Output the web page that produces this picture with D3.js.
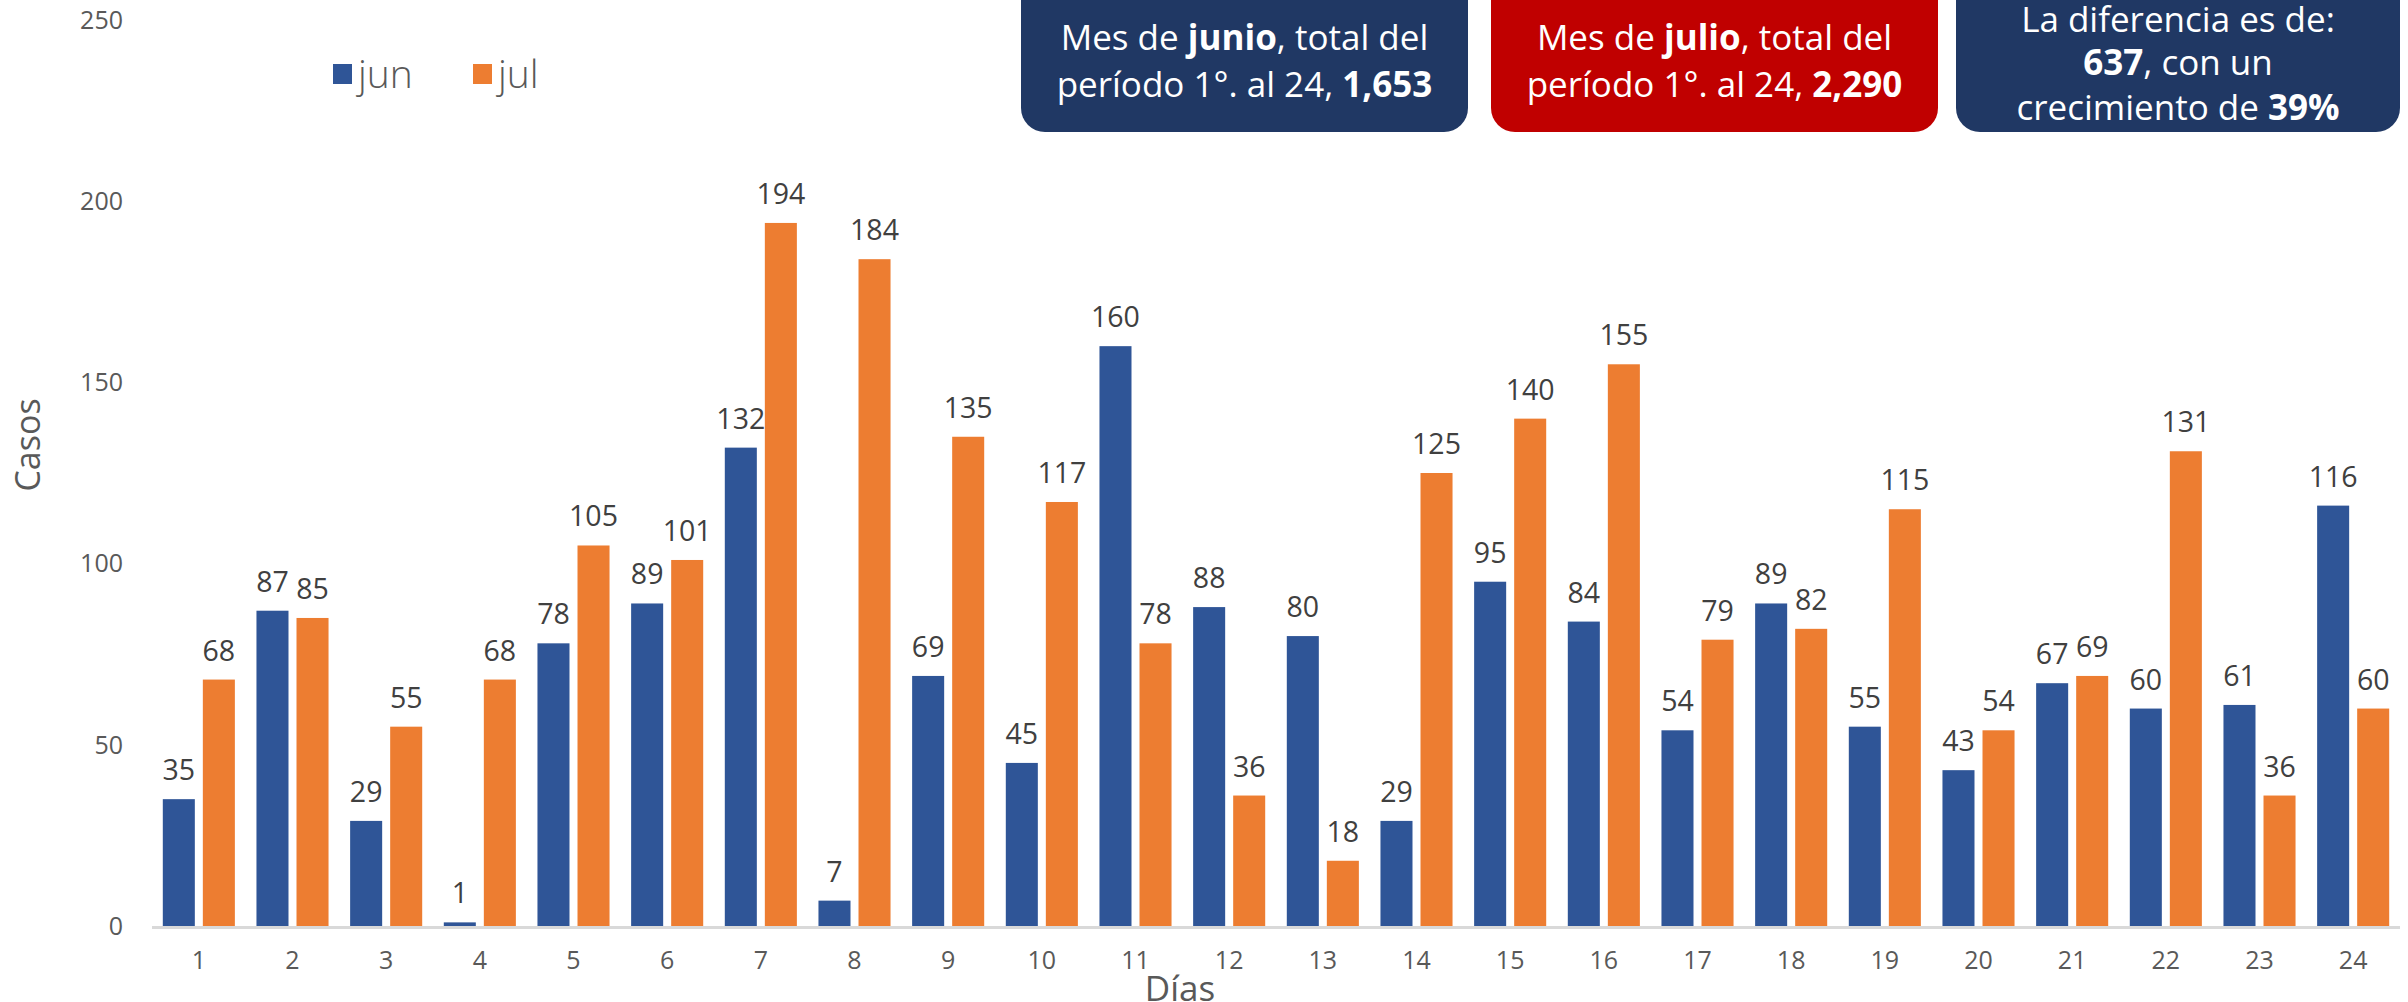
<!DOCTYPE html>
<html><head><meta charset="utf-8">
<script src="https://cdn.jsdelivr.net/npm/d3@7"></script>
<style>
html,body{margin:0;padding:0;background:#fff;}
svg{display:block;font-family:"Open Sans","Noto Sans",sans-serif;}
</style></head>
<body>
<svg id="chart" width="2408" height="1002"></svg>
<script>
const days = ["1","2","3","4","5","6","7","8","9","10","11","12","13","14","15","16","17","18","19","20","21","22","23","24"];
const series = ["jun","jul"];
const junValues = [35,87,29,1,78,89,132,7,69,45,160,88,80,29,95,84,54,89,55,43,67,60,61,116];
const julValues = [68,85,55,68,105,101,194,184,135,117,78,36,18,125,140,155,79,82,115,54,69,131,36,60];
const yTicks = [0,50,100,150,200,250];
const colors = {jun:"#2F5597", jul:"#ED7D31"};
const boxes = [
  {fill:"#203864", lines:[[["Mes de ",400],["junio",700],[", total del",400]],[["período 1°. al 24, ",400],["1,653",700]]]},
  {fill:"#C00000", lines:[[["Mes de ",400],["julio",700],[", total del",400]],[["período 1°. al 24, ",400],["2,290",700]]]},
  {fill:"#203864", lines:[[["La diferencia es de:",400]],[["637",700],[", con un",400]],[["crecimiento de ",400],["39%",700]]]}
];

const svg = d3.select("#chart");
const x0 = d3.scaleBand().domain(days).range([152, 2400]).padding(0);
const x1 = d3.scaleBand().domain(series).range([10.8, x0.bandwidth()-10.8]).paddingInner(0.2);
const y = d3.scaleLinear().domain([0,250]).range([926, 20]);

const data = days.map((d,i)=>({day:d, vals:[{k:"jun",v:junValues[i]},{k:"jul",v:julValues[i]}]}));

// y tick labels
svg.append("g").selectAll("text").data(yTicks).join("text")
  .attr("x",123).attr("y",d=>y(d)).attr("dy","0.35em")
  .attr("text-anchor","end").attr("font-size",25).attr("fill","#595959").text(d=>d);

// bars
const g = svg.append("g").selectAll("g").data(data).join("g")
  .attr("transform",d=>`translate(${x0(d.day)},0)`);
g.selectAll("rect").data(d=>d.vals).join("rect")
  .attr("x",d=>x1(d.k)).attr("width",x1.bandwidth())
  .attr("y",d=>y(d.v)).attr("height",d=>y(0)-y(d.v))
  .attr("fill",d=>colors[d.k]);
g.selectAll("text").data(d=>d.vals).join("text")
  .attr("x",d=>x1(d.k)+x1.bandwidth()/2).attr("y",d=>y(d.v)-19)
  .attr("text-anchor","middle").attr("font-size",28.5).attr("fill","#404040").text(d=>d.v);

// x axis line
svg.append("line").attr("x1",152).attr("x2",2400).attr("y1",y(0)+1.5).attr("y2",y(0)+1.5)
  .attr("stroke","#d9d9d9").attr("stroke-width",3);

// x tick labels
svg.append("g").selectAll("text").data(days).join("text")
  .attr("x",d=>x0(d)+x0.bandwidth()/2).attr("y",960).attr("dy","0.35em")
  .attr("text-anchor","middle").attr("font-size",25).attr("fill","#595959").text(d=>d);

// axis titles
svg.append("text").attr("x",1180).attr("y",989).attr("dy","0.35em").attr("text-anchor","middle")
  .attr("font-size",35).attr("fill","#595959").text("Días");
svg.append("text").attr("transform","translate(28,445) rotate(-90)").attr("dy","0.35em").attr("text-anchor","middle")
  .attr("font-size",34).attr("fill","#595959").text("Casos");

// legend
const leg = svg.append("g");
series.forEach((s,i)=>{
  const lx = [333,473][i];
  leg.append("rect").attr("x",lx).attr("y",64).attr("width",19).attr("height",20).attr("fill",colors[s]);
  leg.append("text").attr("x",lx+25).attr("y",74).attr("dy","0.35em").attr("font-size",39)
    .attr("font-weight",300).attr("fill","#595959").text(s);
});

// boxes
const boxX = [[1021,1468],[1491,1938],[1956,2400]];
boxes.forEach((b,i)=>{
  const [bx1,bx2] = boxX[i];
  svg.append("rect").attr("x",bx1).attr("y",-25).attr("width",bx2-bx1).attr("height",157)
    .attr("rx",24).attr("fill",b.fill);
  const n = b.lines.length;
  const ys = n===2 ? [38,85] : [20,63,108];
  b.lines.forEach((ln,j)=>{
    const t = svg.append("text").attr("x",(bx1+bx2)/2).attr("y",ys[j]).attr("dy","0.35em")
      .attr("text-anchor","middle").attr("font-size",35).attr("fill","#fff");
    ln.forEach(([txt,w])=>t.append("tspan").attr("font-weight",w).text(txt));
  });
});
</script>
</body></html>
